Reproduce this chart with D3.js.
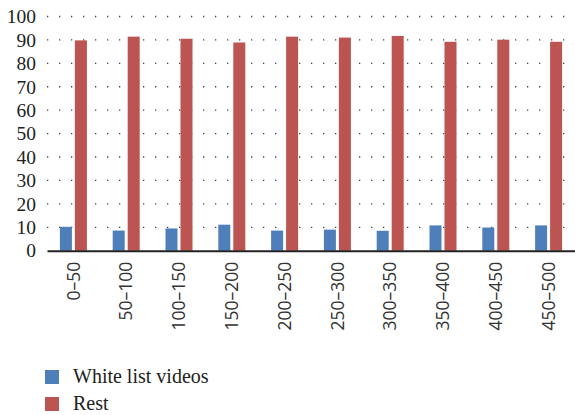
<!DOCTYPE html>
<html>
<head>
<meta charset="utf-8">
<script src="https://cdn.jsdelivr.net/npm/d3@7"></script>
<style>
  body { margin: 0; background: #fff; }
  svg { display: block; }
</style>
</head>
<body>
<div id="content"></div>
<script>
const categories = ["0–50","50–100","100–150","150–200","200–250","250–300","300–350","350–400","400–450","450–500"];
const whiteList = [10.2, 8.6, 9.5, 11.1, 8.6, 9.0, 8.5, 10.8, 9.9, 10.8];
const rest = [89.8, 91.4, 90.5, 88.9, 91.4, 91.0, 91.7, 89.2, 90.1, 89.2];
const yTicks = [0,10,20,30,40,50,60,70,80,90,100];
const seriesNames = ["White list videos","Rest"];
const colors = ["#4f7fba","#bc5452"];

const w = 575, h = 415;
const plotLeft = 47, plotRight = 575, plotTop = 16.5, plotBottom = 250.7;

const svg = d3.select("#content").append("svg").attr("width", w).attr("height", h);

const xScale = d3.scaleBand().domain(categories).range([plotLeft, plotRight]);
const yScale = d3.scaleLinear().domain([0,100]).range([plotBottom, plotTop]);

// dotted grid
svg.append("g").selectAll("line").data(yTicks.filter(d => d > 0)).enter().append("line")
  .attr("x1", plotLeft).attr("x2", plotRight)
  .attr("y1", d => yScale(d)).attr("y2", d => yScale(d))
  .attr("stroke", "#444").attr("stroke-width", 1.3)
  .attr("stroke-dasharray", "1.3,10.7");

// bars
const barW = 12, gap = 3;
const groups = svg.append("g").selectAll("g").data(categories).enter().append("g")
  .attr("transform", d => `translate(${xScale(d) + xScale.bandwidth()/2},0)`);

groups.append("rect")
  .attr("x", -barW - gap/2)
  .attr("width", barW)
  .attr("y", (d,i) => yScale(whiteList[i]))
  .attr("height", (d,i) => plotBottom - yScale(whiteList[i]))
  .attr("fill", colors[0]);

groups.append("rect")
  .attr("x", gap/2)
  .attr("width", barW)
  .attr("y", (d,i) => yScale(rest[i]))
  .attr("height", (d,i) => plotBottom - yScale(rest[i]))
  .attr("fill", colors[1]);

// x axis
const xAxis = d3.axisBottom(xScale).tickSize(0).tickPadding(0);
const gx = svg.append("g").attr("transform", `translate(0,${plotBottom})`).call(xAxis);
gx.select(".domain").attr("stroke", "#222").attr("stroke-width", 2);
gx.selectAll("text")
  .attr("font-family", "'Open Sans', sans-serif")
  .attr("font-size", "17.5px")
  .attr("fill", "#333")
  .attr("text-anchor", "end")
  .attr("dy", "0.35em")
  .attr("y", 0)
  .attr("transform", "translate(0,11) rotate(-90)");

// y axis
const yAxis = d3.axisLeft(yScale).tickValues(yTicks).tickSize(0).tickPadding(11);
const gy = svg.append("g").attr("transform", `translate(${plotLeft},0)`).call(yAxis);
gy.select(".domain").remove();
gy.selectAll("text")
  .attr("font-family", "'Liberation Serif', serif")
  .attr("font-size", "19.5px")
  .attr("fill", "#222");

// legend
const legend = svg.append("g").selectAll("g").data(seriesNames).enter().append("g")
  .attr("transform", (d,i) => `translate(45,${370 + i*27})`);
legend.append("rect").attr("width", 14).attr("height", 14).attr("fill", (d,i) => colors[i]);
legend.append("text")
  .attr("x", 28).attr("y", 13)
  .attr("font-family", "'Liberation Serif', serif")
  .attr("font-size", "20px")
  .attr("fill", "#222")
  .text(d => d);
</script>
</body>
</html>
